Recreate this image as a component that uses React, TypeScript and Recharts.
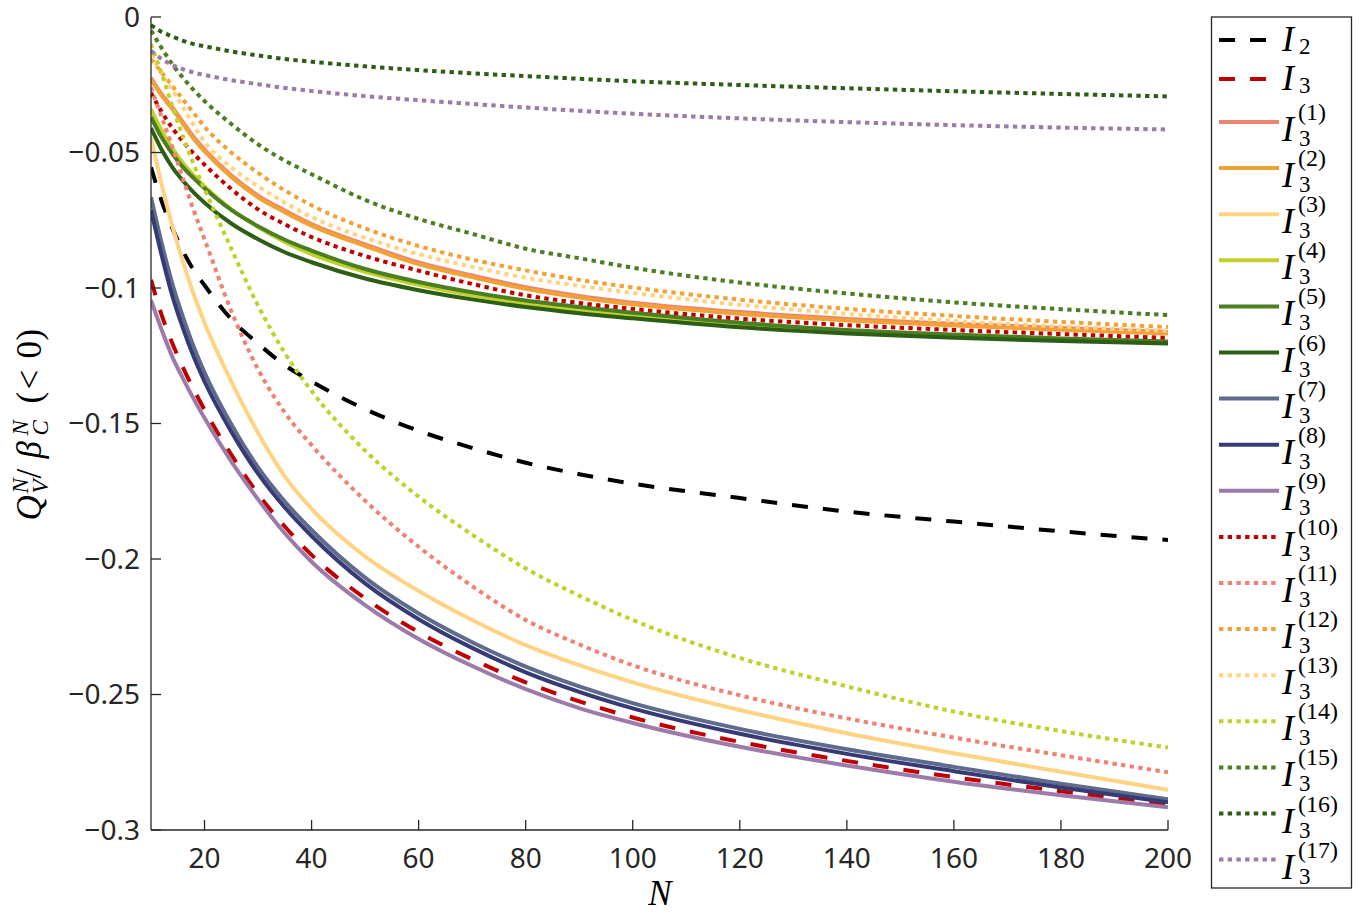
import React from "react";
import { LineChart, Line, XAxis, YAxis } from "recharts";

const nValues = [10, 12, 14, 16, 18, 20, 25, 30, 35, 40, 50, 60, 70, 80, 90, 100, 120, 140, 160, 180, 200];

const xTicks = [20, 40, 60, 80, 100, 120, 140, 160, 180, 200];
const yTicks = [-0.3, -0.25, -0.2, -0.15, -0.1, -0.05, 0];

const i2 = [-0.0555, -0.068, -0.078, -0.0865, -0.0935, -0.099, -0.1115, -0.1205, -0.1285, -0.1345, -0.1447, -0.1527, -0.159, -0.1645, -0.1687, -0.1722, -0.1775, -0.1825, -0.1862, -0.1898, -0.193];
const i3 = [-0.097, -0.11, -0.1205, -0.1295, -0.1375, -0.145, -0.1615, -0.176, -0.188, -0.1985, -0.2145, -0.227, -0.237, -0.2455, -0.2525, -0.2585, -0.2675, -0.2745, -0.2805, -0.2857, -0.2905];
const i3k1 = [-0.0224, -0.0285, -0.0334, -0.0389, -0.0444, -0.0489, -0.0584, -0.0659, -0.0714, -0.0764, -0.0839, -0.0906, -0.0954, -0.0997, -0.1029, -0.1054, -0.1089, -0.1114, -0.1132, -0.1148, -0.1162];
const i3k2 = [-0.023, -0.029, -0.034, -0.0395, -0.045, -0.0495, -0.059, -0.0665, -0.072, -0.077, -0.0845, -0.0912, -0.096, -0.1003, -0.1035, -0.106, -0.1095, -0.112, -0.1138, -0.1154, -0.1168];
const i3k3 = [-0.0445, -0.0618, -0.0772, -0.0905, -0.1025, -0.1128, -0.1345, -0.1535, -0.1695, -0.1815, -0.199, -0.2118, -0.2225, -0.2318, -0.2392, -0.2455, -0.2557, -0.2643, -0.2717, -0.2785, -0.2852];
const i3k4 = [-0.034, -0.042, -0.0485, -0.054, -0.0585, -0.0625, -0.071, -0.0775, -0.083, -0.0875, -0.094, -0.0988, -0.1027, -0.1057, -0.1082, -0.1103, -0.1138, -0.1163, -0.1178, -0.119, -0.1199];
const i3k5 = [-0.037, -0.0445, -0.0505, -0.0555, -0.0595, -0.0632, -0.0712, -0.0772, -0.0822, -0.0862, -0.093, -0.0978, -0.1016, -0.1046, -0.107, -0.1091, -0.1128, -0.1155, -0.1172, -0.1186, -0.1197];
const i3k6 = [-0.041, -0.049, -0.0555, -0.0605, -0.0648, -0.0685, -0.0762, -0.082, -0.0868, -0.0905, -0.0965, -0.1008, -0.1042, -0.107, -0.1093, -0.1112, -0.1145, -0.1168, -0.1184, -0.1196, -0.1205];
const i3k7 = [-0.0665, -0.0835, -0.0985, -0.1108, -0.1218, -0.1312, -0.1503, -0.1662, -0.1788, -0.1893, -0.2069, -0.2201, -0.2307, -0.2397, -0.247, -0.2532, -0.2627, -0.2702, -0.2767, -0.2829, -0.2887];
const i3k8 = [-0.0713, -0.088, -0.103, -0.115, -0.1255, -0.1345, -0.153, -0.1685, -0.181, -0.1915, -0.209, -0.2222, -0.2328, -0.2418, -0.249, -0.2551, -0.2645, -0.2719, -0.2783, -0.2843, -0.2898];
const i3k9 = [-0.1045, -0.1155, -0.1255, -0.1335, -0.141, -0.148, -0.164, -0.178, -0.1905, -0.201, -0.217, -0.2295, -0.2395, -0.248, -0.255, -0.2605, -0.2693, -0.2762, -0.2822, -0.2872, -0.2916];
const i3k10 = [-0.028, -0.035, -0.041, -0.046, -0.0505, -0.0545, -0.0635, -0.071, -0.0765, -0.0812, -0.0882, -0.0936, -0.0985, -0.1027, -0.1055, -0.1077, -0.1113, -0.1137, -0.1155, -0.117, -0.1184];
const i3k11 = [-0.026, -0.037, -0.048, -0.0598, -0.0715, -0.082, -0.1085, -0.13, -0.146, -0.158, -0.1785, -0.1955, -0.21, -0.2225, -0.2315, -0.2392, -0.2503, -0.2588, -0.2659, -0.2724, -0.2787];
const i3k12 = [-0.0155, -0.0205, -0.0255, -0.0305, -0.0355, -0.0405, -0.05, -0.0575, -0.064, -0.0695, -0.078, -0.0845, -0.0895, -0.0935, -0.097, -0.0998, -0.1043, -0.1077, -0.1103, -0.1125, -0.1144];
const i3k13 = [-0.014, -0.021, -0.027, -0.0335, -0.04, -0.046, -0.0555, -0.0625, -0.0685, -0.0738, -0.0815, -0.0875, -0.0922, -0.0962, -0.0992, -0.1018, -0.1062, -0.1095, -0.1122, -0.1142, -0.1158];
const i3k14 = [-0.01, -0.021, -0.033, -0.0443, -0.0545, -0.0635, -0.0855, -0.1065, -0.124, -0.138, -0.16, -0.177, -0.191, -0.2035, -0.2135, -0.2225, -0.2365, -0.247, -0.2563, -0.2635, -0.2696];
const i3k15 = [-0.005, -0.0115, -0.0175, -0.0225, -0.027, -0.031, -0.0395, -0.047, -0.053, -0.058, -0.0675, -0.0745, -0.08, -0.0855, -0.089, -0.0925, -0.098, -0.102, -0.1053, -0.1078, -0.11];
const i3k16 = [-0.003, -0.0055, -0.0072, -0.0088, -0.01, -0.0108, -0.0127, -0.0142, -0.0155, -0.0165, -0.0182, -0.0196, -0.0208, -0.0218, -0.0228, -0.0237, -0.0251, -0.0263, -0.0274, -0.0284, -0.0293];
const i3k17 = [-0.0125, -0.0155, -0.0177, -0.0193, -0.0205, -0.0214, -0.0233, -0.0248, -0.0262, -0.0273, -0.0292, -0.0307, -0.0321, -0.0334, -0.0346, -0.0357, -0.0374, -0.0388, -0.0399, -0.0408, -0.0415];

const DASH = "16 15";
const DOT = "4.4 4.3";

const SALMON = "#F08274";
const ORANGE = "#F2A235";
const LIGHT = "#FFD382";
const LIME = "#C0D22A";
const GREEN = "#4B7F22";
const DARK = "#2C5E16";
const SLATE = "#5E6B8C";
const NAVY = "#363B76";
const PURPLE = "#9C7AAA";
const RED = "#BF0000";

const series = [
  { key: "i2", values: i2, color: "#000000", dash: DASH, sub: "2", sup: "" },
  { key: "i3", values: i3, color: RED, dash: DASH, sub: "3", sup: "" },
  { key: "k1", values: i3k1, color: SALMON, dash: "", sub: "3", sup: "(1)" },
  { key: "k2", values: i3k2, color: ORANGE, dash: "", sub: "3", sup: "(2)" },
  { key: "k3", values: i3k3, color: LIGHT, dash: "", sub: "3", sup: "(3)" },
  { key: "k4", values: i3k4, color: LIME, dash: "", sub: "3", sup: "(4)" },
  { key: "k5", values: i3k5, color: GREEN, dash: "", sub: "3", sup: "(5)" },
  { key: "k6", values: i3k6, color: DARK, dash: "", sub: "3", sup: "(6)" },
  { key: "k7", values: i3k7, color: SLATE, dash: "", sub: "3", sup: "(7)" },
  { key: "k8", values: i3k8, color: NAVY, dash: "", sub: "3", sup: "(8)" },
  { key: "k9", values: i3k9, color: PURPLE, dash: "", sub: "3", sup: "(9)" },
  { key: "k10", values: i3k10, color: RED, dash: DOT, sub: "3", sup: "(10)" },
  { key: "k11", values: i3k11, color: SALMON, dash: DOT, sub: "3", sup: "(11)" },
  { key: "k12", values: i3k12, color: ORANGE, dash: DOT, sub: "3", sup: "(12)" },
  { key: "k13", values: i3k13, color: LIGHT, dash: DOT, sub: "3", sup: "(13)" },
  { key: "k14", values: i3k14, color: LIME, dash: DOT, sub: "3", sup: "(14)" },
  { key: "k15", values: i3k15, color: GREEN, dash: DOT, sub: "3", sup: "(15)" },
  { key: "k16", values: i3k16, color: DARK, dash: DOT, sub: "3", sup: "(16)" },
  { key: "k17", values: i3k17, color: PURPLE, dash: DOT, sub: "3", sup: "(17)" },
];

const data = nValues.map((n, i) => {
  const row: Record<string, number> = { n };
  series.forEach((s) => {
    row[s.key] = s.values[i];
  });
  return row;
});

const AXIS = "#262626";
const SANS = "'Noto Sans', 'Open Sans', sans-serif";
const SERIF = "'Liberation Serif', 'DejaVu Serif', serif";
const LW = 4;

const fmtY = (v: number) => (v === 0 ? "0" : "\u2212" + Math.abs(v));

function LegendRow({ s, y }: { s: (typeof series)[number]; y: number }) {
  const hasSup = s.sup !== "";
  return (
    <g>
      <line
        x1={1219}
        x2={1279}
        y1={y}
        y2={y}
        stroke={s.color}
        strokeWidth={LW}
        strokeDasharray={s.dash || undefined}
      />
      <text x={1282} y={hasSup ? y + 19 : y + 11} fontFamily={SERIF} fontStyle="italic" fontSize={36} fill="#000">
        I
      </text>
      <text x={1299} y={hasSup ? y + 24 : y + 14} fontFamily={SERIF} fontSize={23} fill="#000">
        {s.sub}
      </text>
      {hasSup && (
        <text x={1298} y={y - 2} fontFamily={SERIF} fontSize={24} fill="#000">
          {s.sup}
        </text>
      )}
    </g>
  );
}

function Overlay() {
  const rowY = (i: number) => (i === 0 ? 40 : i === 1 ? 79 : 122 + (i - 2) * 46.1);
  return (
    <svg
      width={1368}
      height={916}
      style={{ position: "absolute", left: 0, top: 0, pointerEvents: "none" }}
    >
      {/* legend */}
      <rect x={1211.5} y={17} width={140} height={871} fill="#fff" stroke={AXIS} strokeWidth={1.3} />
      {series.map((s, i) => (
        <LegendRow key={s.key} s={s} y={rowY(i)} />
      ))}

      {/* y label */}
      <g transform="translate(41,423.5) rotate(-90)" fill="#000">
        <text x={-97} y={0} fontFamily={SERIF} fontStyle="italic" fontSize={35}>Q</text>
        <text x={-70} y={-13} fontFamily={SERIF} fontStyle="italic" fontSize={23}>N</text>
        <text x={-70} y={7} fontFamily={SERIF} fontStyle="italic" fontSize={23}>V</text>
        <text x={-55} y={0} fontFamily={SERIF} fontSize={35}>/</text>
        <text x={-35} y={0} fontFamily={SERIF} fontStyle="italic" fontSize={35}>β</text>
        <text x={-12} y={-13} fontFamily={SERIF} fontStyle="italic" fontSize={23}>N</text>
        <text x={-12} y={7} fontFamily={SERIF} fontStyle="italic" fontSize={23}>C</text>
        <text x={20} y={0} fontFamily={SERIF} fontSize={35}>(</text>
        <text x={34} y={0} fontFamily={SERIF} fontSize={35}>&lt;</text>
        <text x={65} y={0} fontFamily={SERIF} fontSize={35}>0</text>
        <text x={83} y={0} fontFamily={SERIF} fontSize={35}>)</text>
      </g>

      {/* x label */}
      <text x={660} y={905} textAnchor="middle" fontFamily={SERIF} fontStyle="italic" fontSize={35} fill="#000">
        N
      </text>
    </svg>
  );
}

export default function App() {
  return (
    <div style={{ position: "absolute", left: 0, top: 0, width: 1368, height: 916, background: "#fff" }}>
      <LineChart width={1368} height={916} data={data} margin={{ top: 17, right: 200, bottom: 36, left: 51 }}>
        <XAxis
          xAxisId="b"
          dataKey="n"
          type="number"
          domain={[10, 200]}
          ticks={xTicks}
          allowDataOverflow
          height={50}
          tickSize={-10}
          tickMargin={28}
          stroke={AXIS}
          strokeWidth={1.3}
          tick={{ fontSize: 28, fill: AXIS, fontFamily: SANS }}
        />
        <XAxis
          xAxisId="t"
          orientation="top"
          dataKey="n"
          type="number"
          domain={[10, 200]}
          ticks={xTicks}
          allowDataOverflow
          height={0}
          tick={false}
          tickSize={-10}
          stroke={AXIS}
          strokeWidth={1.3}
        />
        <YAxis
          yAxisId="l"
          type="number"
          domain={[-0.3, 0]}
          ticks={yTicks}
          allowDataOverflow
          width={100}
          tickSize={-10}
          tickMargin={21}
          tickFormatter={fmtY}
          stroke={AXIS}
          strokeWidth={1.3}
          tick={{ fontSize: 28, fill: AXIS, fontFamily: SANS }}
        />
        <YAxis
          yAxisId="r"
          orientation="right"
          type="number"
          domain={[-0.3, 0]}
          ticks={yTicks}
          allowDataOverflow
          width={0}
          tick={false}
          tickSize={-10}
          stroke={AXIS}
          strokeWidth={1.3}
        />
        {series.map((s) => (
          <Line
            key={s.key}
            xAxisId="b"
            yAxisId="l"
            type="monotone"
            dataKey={s.key}
            stroke={s.color}
            strokeWidth={LW}
            strokeDasharray={s.dash || undefined}
            dot={false}
            activeDot={false}
            isAnimationActive={false}
          />
        ))}
      </LineChart>
      <Overlay />
    </div>
  );
}
